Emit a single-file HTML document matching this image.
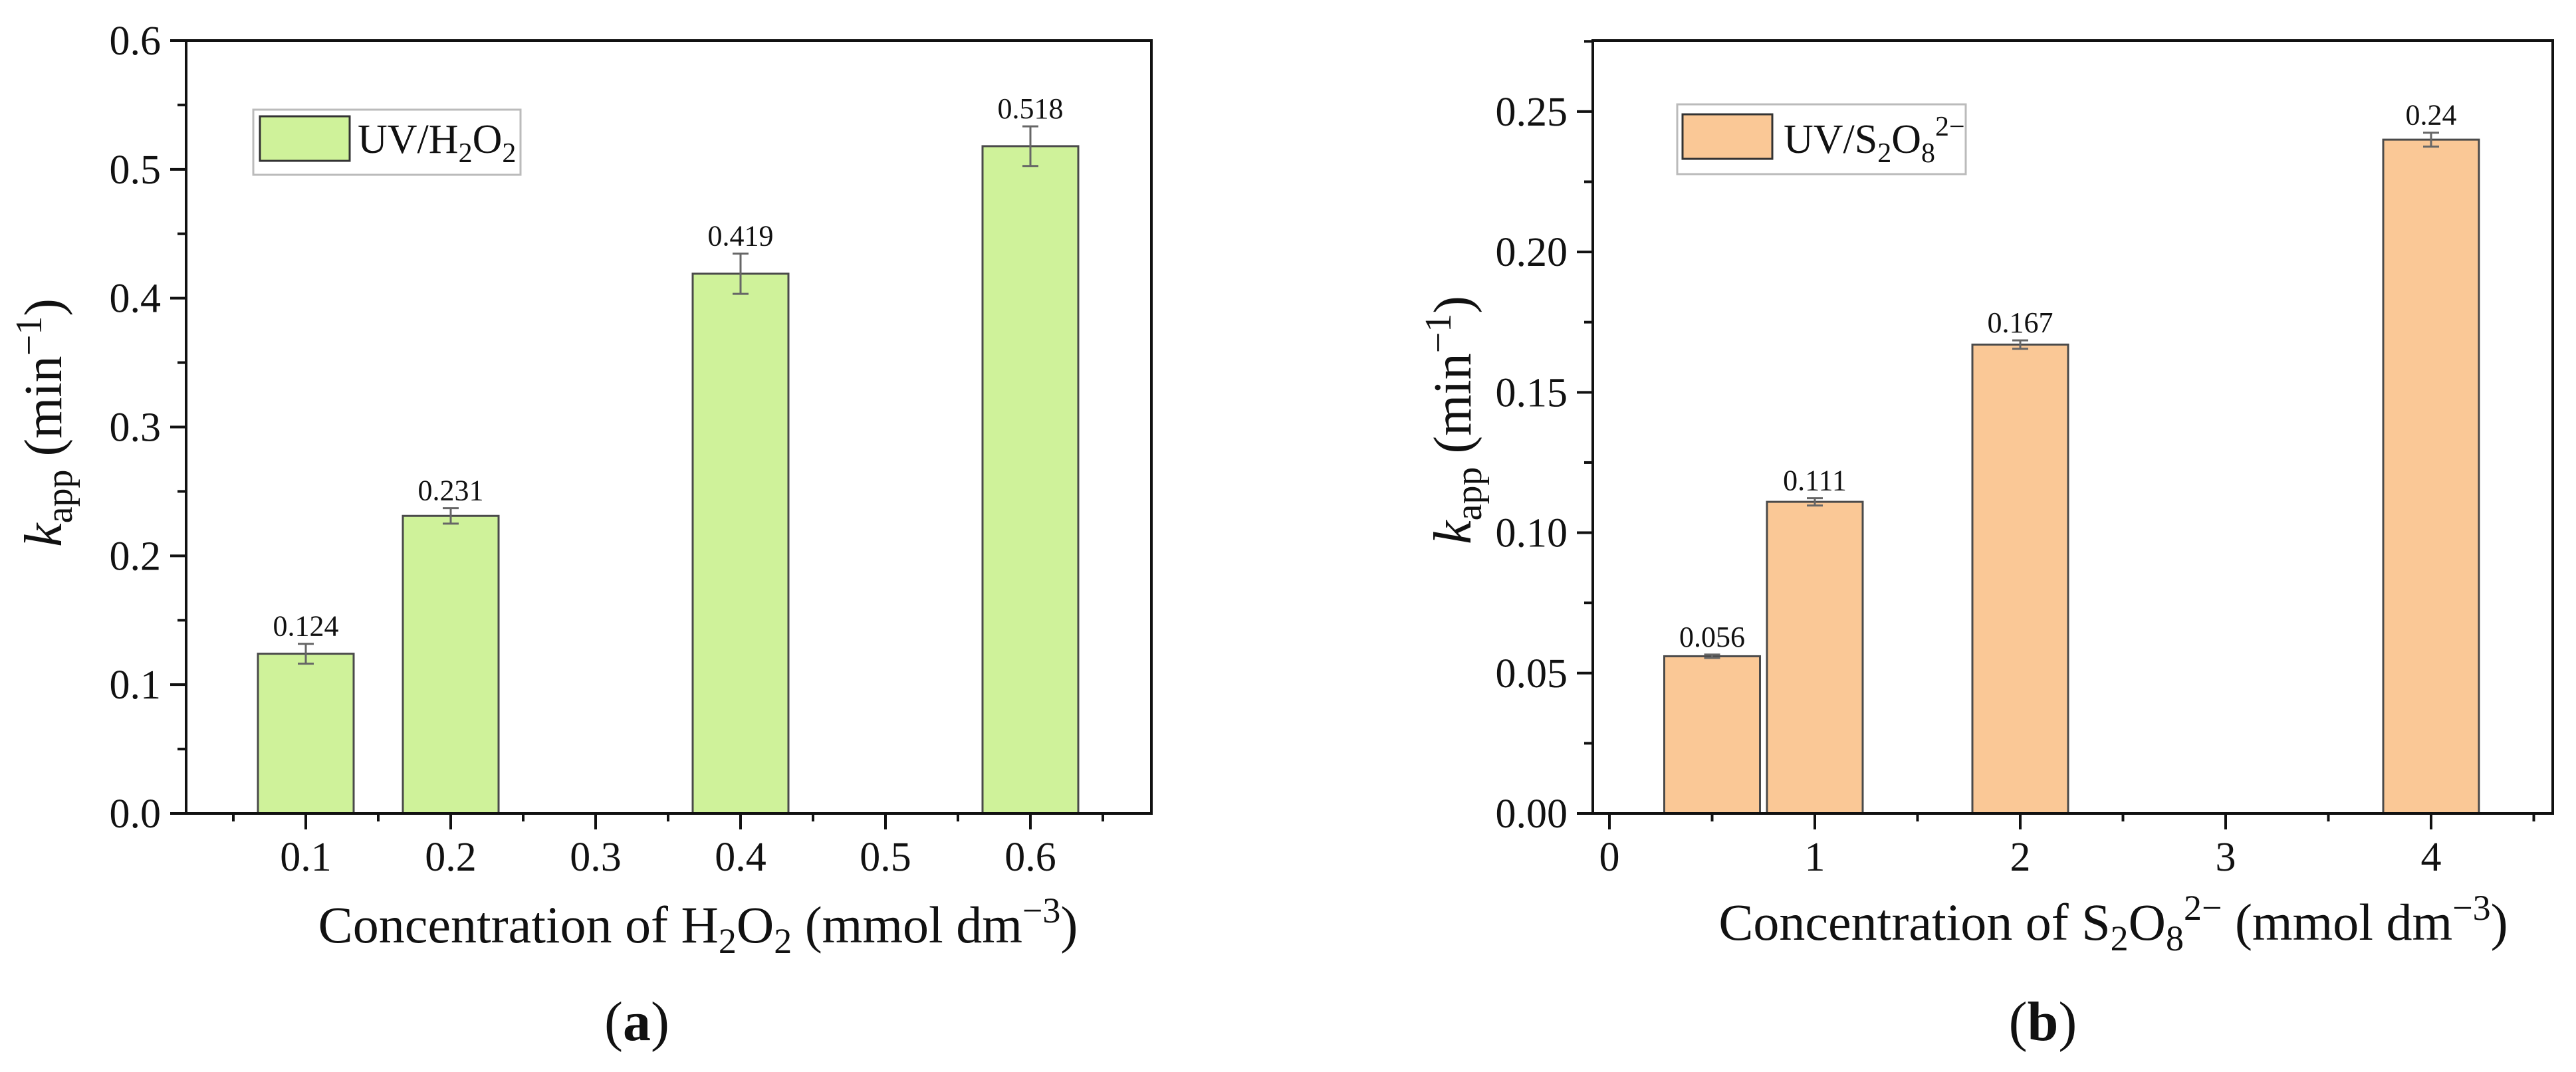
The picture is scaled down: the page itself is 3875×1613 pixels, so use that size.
<!DOCTYPE html>
<html><head><meta charset="utf-8"><style>
html,body{margin:0;padding:0;background:#fff}
svg{display:block;font-family:"Liberation Serif",serif}
</style></head><body>
<svg id="fig" width="3875" height="1613" viewBox="0 0 3875 1613">
<g id="pa"></g>
<g id="pb"></g>
</svg>
<script>
// Panel (a) data
const catsA = ["0.1","0.2","0.3","0.4","0.5","0.6"];
const barIdxA = [1,2,4,6];
const valsA = [0.124,0.231,0.419,0.518];
const errA = [0.0077,0.006,0.0156,0.0154];
const labelsA = ["0.124","0.231","0.419","0.518"];
const yTicksA = ["0.0","0.1","0.2","0.3","0.4","0.5","0.6"];
// Panel (b) data
const xTicksB = ["0","1","2","3","4"];
const barXB = [0.5,1,2,4];
const valsB = [0.056,0.111,0.167,0.24];
const errB = [0.0006,0.0013,0.0015,0.0025];
const labelsB = ["0.056","0.111","0.167","0.24"];
const yTicksB = ["0.00","0.05","0.10","0.15","0.20","0.25"];

const NS="http://www.w3.org/2000/svg";
function mk(parent,tag,attrs,text){const e=document.createElementNS(NS,tag);for(const k in attrs)e.setAttribute(k,attrs[k]);if(text!==undefined)e.textContent=text;parent.appendChild(e);return e;}

function panel(g,o){
  const L=o.left,R=o.right,T=61,B=1224;
  const xs=v=>o.x0+(v-o.xv0)*o.xu;
  const ys=v=>B-(v/o.ymax)*(B-T);
  // bars
  o.bx.forEach((xv,i)=>{
    const w=o.bw, cx=xs(xv), y=ys(o.vals[i]);
    const r=mk(g,'rect',{x:cx-w/2,y:y,width:w,height:B-y,fill:o.fill,stroke:'#4a4a4a','stroke-width':3});
    
    
    const e1=ys(o.vals[i]+o.err[i]),e2=ys(o.vals[i]-o.err[i]);
    const eg=mk(g,'g',{stroke:'#666','stroke-width':3});
    
    
    mk(eg,'line',{x1:cx,x2:cx,y1:e1,y2:e2});
    mk(eg,'line',{x1:cx-12,x2:cx+12,y1:e1,y2:e1});
    mk(eg,'line',{x1:cx-12,x2:cx+12,y1:e2,y2:e2});
    const t=mk(g,'text',{x:cx,y:e1-12,'font-size':44,'text-anchor':'middle',fill:'#111'},o.labels[i]);
    
    
  });
  // frame
  const f=mk(g,'rect',{x:L,y:T,width:R-L,height:B-T,fill:'none',stroke:'#111','stroke-width':4});
  
  
  // y ticks
  o.yt.forEach((lab,i)=>{
    const v=i*o.ystep, y=ys(v);
    mk(g,'line',{x1:L-24,x2:L,y1:y,y2:y,stroke:'#111','stroke-width':4});
    const t=mk(g,'text',{x:L-38,y:y+21,'font-size':62,'text-anchor':'end',fill:'#111'},lab);
    
    
    const ym=ys(v+o.ystep/2);
    if(ym>=T-1) mk(g,'line',{x1:L-13,x2:L,y1:ym,y2:ym,stroke:'#111','stroke-width':4});
  });
  // x ticks
  o.xt.forEach((lab,i)=>{
    const v=o.xtv[i], x=xs(v);
    mk(g,'line',{x1:x,x2:x,y1:B,y2:B+24,stroke:'#111','stroke-width':4});
    const t=mk(g,'text',{x:x,y:1310,'font-size':62,'text-anchor':'middle',fill:'#111'},lab);
    
    
  });
  o.minorX.forEach(v=>{const x=xs(v);if(x>L&&x<R)mk(g,'line',{x1:x,x2:x,y1:B,y2:B+12,stroke:'#111','stroke-width':4});});
}

panel(document.getElementById('pa'),{left:280,right:1732,x0:460,xv0:1,xu:218,ymax:0.6,ystep:0.1,
  bx:barIdxA,vals:valsA,err:errA,labels:labelsA,bw:144,fill:'#cff29a',yt:yTicksA,
  xt:catsA,xtv:catsA.map((c,i)=>i+1),minorX:[0.5,1.5,2.5,3.5,4.5,5.5,6.5]});
panel(document.getElementById('pb'),{left:2396,right:3840,x0:2421,xv0:0,xu:309,ymax:0.2753,ystep:0.05,
  bx:barXB,vals:valsB,err:errB,labels:labelsB,bw:144,fill:'#fac896',yt:yTicksB,
  xt:xTicksB,xtv:xTicksB.map(Number),minorX:[0.5,1.5,2.5,3.5,4.5]});
</script>
<svg width="0" height="0" style="position:absolute"></svg>
<div style="position:absolute;left:0;top:0;width:3875px;height:1613px;pointer-events:none">
<svg width="3875" height="1613" style="font-family:'Liberation Serif',serif">
  <!-- legends -->
  <g>
    <rect x="381" y="165" width="402" height="98" fill="#fff" stroke="#bbb" stroke-width="3"/>
    <rect x="391" y="175" width="135" height="67" fill="#cff29a" stroke="#333" stroke-width="3"/>
    <text x="538" y="230" font-size="62" fill="#111">UV/H<tspan font-size="42" dy="14">2</tspan><tspan dy="-14">O</tspan><tspan font-size="42" dy="14">2</tspan></text>
  </g>
  <g>
    <rect x="2523" y="157" width="434" height="105" fill="#fff" stroke="#bbb" stroke-width="3"/>
    <rect x="2531" y="172" width="135" height="67" fill="#fac896" stroke="#333" stroke-width="3"/>
    <text x="2683" y="230" font-size="62" fill="#111">UV/S<tspan font-size="42" dy="14">2</tspan><tspan dy="-14">O</tspan><tspan font-size="42" dy="14">8</tspan><tspan font-size="42" dy="-40">2−</tspan></text>
  </g>
  <!-- axis titles -->
  <text transform="translate(92,636) rotate(-90)" text-anchor="middle" font-size="80" fill="#111"><tspan font-style="italic">k</tspan><tspan font-size="56" dy="16">app</tspan><tspan dy="-16"> (min</tspan><tspan font-size="56" dy="-30">−1</tspan><tspan dy="30">)</tspan></text>
  <text transform="translate(2212,632) rotate(-90)" text-anchor="middle" font-size="80" fill="#111"><tspan font-style="italic">k</tspan><tspan font-size="56" dy="16">app</tspan><tspan dy="-16"> (min</tspan><tspan font-size="56" dy="-30">−1</tspan><tspan dy="30">)</tspan></text>
  <text x="1050" y="1418" text-anchor="middle" font-size="78" fill="#111">Concentration of H<tspan font-size="54" dy="16">2</tspan><tspan dy="-16">O</tspan><tspan font-size="54" dy="16">2</tspan><tspan dy="-16"> (mmol dm</tspan><tspan font-size="54" dy="-30">−3</tspan><tspan dy="30">)</tspan></text>
  <text x="3179" y="1414" text-anchor="middle" font-size="78" fill="#111">Concentration of S<tspan font-size="54" dy="16">2</tspan><tspan dy="-16">O</tspan><tspan font-size="54" dy="16">8</tspan><tspan font-size="54" dy="-46">2−</tspan><tspan dy="30"> (mmol dm</tspan><tspan font-size="54" dy="-30">−3</tspan><tspan dy="30">)</tspan></text>
  <text x="958" y="1565" text-anchor="middle" font-size="84" fill="#111">(<tspan font-weight="bold">a</tspan>)</text>
  <text x="3073" y="1565" text-anchor="middle" font-size="84" fill="#111">(<tspan font-weight="bold">b</tspan>)</text>
</svg>
</div>
</body></html>
